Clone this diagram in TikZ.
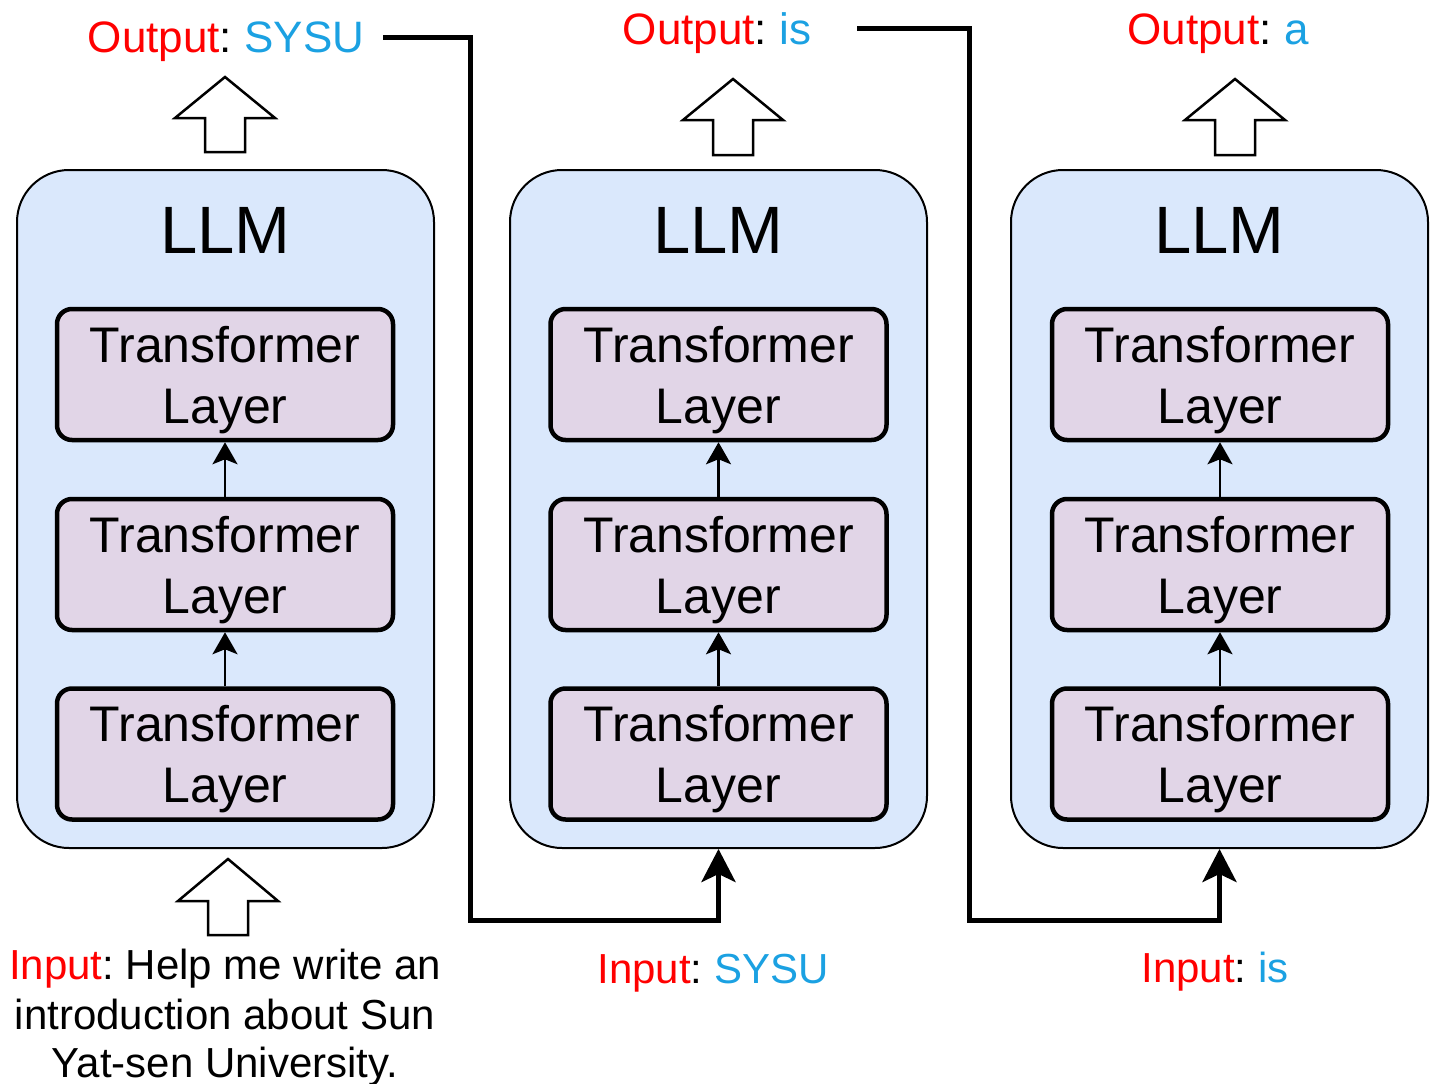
\documentclass[tikz,border=0pt]{standalone}
\usepackage{fontspec}
\setmainfont{Liberation Sans}
\usetikzlibrary{arrows.meta}
\definecolor{llmfill}{HTML}{DAE8FC}
\definecolor{layfill}{HTML}{E1D5E7}
\definecolor{outred}{HTML}{FF0000}
\definecolor{tokblue}{HTML}{1BA1E2}
\frenchspacing
\tikzset{
  llmbox/.style={draw=black, line width=2pt, fill=llmfill, rounded corners=52pt,
    minimum width=417pt, minimum height=678pt, inner sep=0pt},
  laybox/.style={draw=black, line width=4.5pt, fill=layfill, rounded corners=15pt,
    minimum width=336pt, minimum height=131pt, inner sep=0pt},
  laytext/.style={align=center, font=\fontsize{50}{61}\selectfont, inner sep=0pt},
  llmtext/.style={font=\fontsize{67}{78}\selectfont, inner sep=0pt, anchor=base},
  outtext/.style={font=\fontsize{44}{52}\selectfont, inner sep=0pt, anchor=base},
  intext/.style={font=\fontsize{42}{50}\selectfont, inner sep=0pt, anchor=base, align=center},
  uparrow/.style={line width=2.5pt, -{Stealth[length=22pt,width=25pt,inset=5pt]}},
  conn/.style={line width=5pt, -{Stealth[length=33pt,width=34pt,inset=8pt]}},
  blockarrow/.style={draw=black, line width=2.5pt, fill=white, line join=miter},
}
\newcommand{\blockup}[4]{% tip x, tip y, head base y, bottom y
  \draw[blockarrow] (#1,#2) -- (#1+50,#3) -- (#1+20,#3) -- (#1+20,#4) -- (#1-20,#4)
    -- (#1-20,#3) -- (#1-50,#3) -- cycle;}
\begin{document}
\begin{tikzpicture}[x=1pt,y=-1pt]
\useasboundingbox (0,0) rectangle (1430,1084);

% LLM boxes
\node[llmbox] (B1) at (225.5,509) {};
\node[llmbox] (B2) at (718.5,509) {};
\node[llmbox] (B3) at (1219.5,509) {};
\node[llmtext] (N1) at (225.5,253) {LLM};
\node[llmtext] (N2) at (718.5,253) {LLM};
\node[llmtext] (N3) at (1219.5,253) {LLM};

% layers
\foreach \b/\x in {1/225,2/718.5,3/1220}{
  \node[laybox] (L\b a) at (\x,374.5) {};
  \node[laybox] (L\b b) at (\x,564.5) {};
  \node[laybox] (L\b c) at (\x,754) {};
  \node[laytext] (T\b a) at (\x,380) {Transformer\\Layer};
  \node[laytext] (T\b b) at (\x,570) {Transformer\\Layer};
  \node[laytext] (T\b c) at (\x,759.5) {Transformer\\Layer};
  \draw[uparrow] (L\b c.north) -- (L\b b.south);
  \draw[uparrow] (L\b b.north) -- (L\b a.south);
}

% block arrows
\blockup{225}{77}{118}{152}
\blockup{733}{79}{120}{155}
\blockup{1235}{79}{120}{155}
\blockup{228}{859}{901}{935}

% output labels
\node[outtext] (O1) at (226,52) {\textcolor{outred}{Output}: \textcolor{tokblue}{SYSU}};
\node[outtext] (O2) at (717,44) {\textcolor{outred}{Output}: \textcolor{tokblue}{is}};
\node[outtext] (O3) at (1218,44) {\textcolor{outred}{Output}: \textcolor{tokblue}{a}};

% input labels
\node[intext] (I1) at (225,979) {\textcolor{outred}{Input}: Help me write an};
\node[intext] (I1b) at (225,1029) {introduction about Sun};
\node[intext] (I1c) at (225,1077) {Yat-sen University.};
\node[intext] (I2) at (713,983) {\textcolor{outred}{Input}: \textcolor{tokblue}{SYSU}};
\node[intext] (I3) at (1215,982) {\textcolor{outred}{Input}: \textcolor{tokblue}{is}};

% connectors
\coordinate (c1s) at (383,37);
\coordinate (c2s) at (857,28);
\draw[conn] (c1s) -- (470,37) -- (470,920) -| (B2.south);
\draw[conn] (c2s) -- (969,28) -- (969,920) -| (B3.south);
\end{tikzpicture}
\end{document}
